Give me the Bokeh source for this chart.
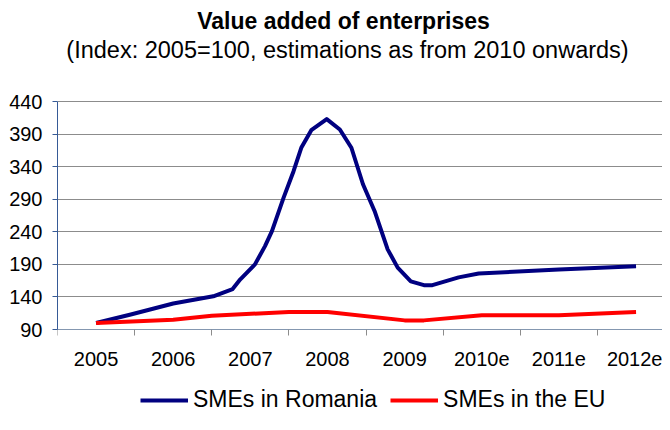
from bokeh.plotting import figure
from bokeh.models import Label, Legend, LegendItem, FixedTicker, Range1d
from bokeh.embed import file_html
from bokeh.resources import INLINE

# ---- data ----
categories = ["2005", "2006", "2007", "2008", "2009", "2010e", "2011e", "2012e"]
y_ticks = [90, 140, 190, 240, 290, 340, 390, 440]

# position along the category axis (0 = 2005 ... 7 = 2012e) and index value
ro_x = [0.0, 0.45, 1.0, 1.52, 1.77, 1.87, 2.06, 2.19, 2.28, 2.43, 2.56, 2.66, 2.79,
        2.99, 3.16, 3.31, 3.46, 3.61, 3.78, 3.91, 4.08, 4.25, 4.36, 4.70, 4.96, 6.0, 7.0]
ro_y = [100, 113, 130, 141, 152, 167, 190, 218, 241, 292, 333, 369, 396,
        413, 397, 369, 313, 272, 213, 185, 164, 158, 158, 170, 176, 182, 187]

eu_x = [0.0, 1.0, 1.5, 2.5, 3.0, 4.0, 4.25, 5.0, 6.0, 7.0]
eu_y = [100, 105, 111, 117, 117, 104, 104, 112, 112, 117]

title_text = "Value added of enterprises"
subtitle_text = "(Index: 2005=100, estimations as from 2010 onwards)"
series_names = ["SMEs in Romania", "SMEs in the EU"]

FONT = "Liberation Sans"

# ---- layout geometry (pixels) ----
W, H = 662, 414
LEFT = 57                 # y-axis position
AX_TOP, AX_BOT = 101, 329  # pixel rows of 440 and 90
CAT_W = 77.14             # width of one category
px_per_unit = (AX_BOT - AX_TOP) / (y_ticks[-1] - y_ticks[0])
x0 = -0.5
x1 = x0 + (W - LEFT) / CAT_W
y_top = y_ticks[-1] + AX_TOP / px_per_unit
y_bot = y_ticks[0] - (H - AX_BOT) / px_per_unit


def px_to_x(px):
    return x0 + (px - LEFT) / CAT_W


def py_to_y(py):
    return y_ticks[-1] + (AX_TOP - py) / px_per_unit


p = figure(width=W, height=H, output_backend="svg", toolbar_location=None,
           x_range=Range1d(x0, x1), y_range=Range1d(y_bot, y_top),
           min_border_left=LEFT, min_border_right=0, min_border_top=0, min_border_bottom=0)
p.outline_line_color = None
p.background_fill_color = "white"
p.border_fill_color = "white"

# grid
p.xgrid.grid_line_color = None
p.ygrid.ticker = FixedTicker(ticks=y_ticks)
p.ygrid.grid_line_color = "#8C8C8C"
p.ygrid.grid_line_width = 1

# y axis
p.yaxis.ticker = FixedTicker(ticks=y_ticks, minor_ticks=[])
p.yaxis.bounds = (y_ticks[0], y_ticks[-1])
p.yaxis.axis_line_color = "#365A96"
p.yaxis.major_tick_line_color = "#365A96"
p.yaxis.major_tick_out = 5
p.yaxis.major_tick_in = 0
p.yaxis.minor_tick_line_color = None
p.yaxis.major_label_standoff = 10
p.yaxis.major_label_text_font = FONT
p.yaxis.major_label_text_font_size = "20px"
p.yaxis.major_label_text_color = "black"

# x axis: labels at category centres, tick marks between categories
p.xaxis.fixed_location = y_ticks[0]
p.xaxis.ticker = FixedTicker(ticks=list(range(len(categories))),
                             minor_ticks=[i - 0.5 for i in range(len(categories) + 1)])
p.xaxis.major_label_overrides = {i: c for i, c in enumerate(categories)}
p.xaxis.axis_line_color = "#8497B0"
p.xaxis.major_tick_line_color = None
p.xaxis.major_tick_out = 0
p.xaxis.major_tick_in = 0
p.xaxis.minor_tick_line_color = "#8C8C8C"
p.xaxis.minor_tick_out = 6
p.xaxis.minor_tick_in = 0
p.xaxis.major_label_standoff = 16
p.xaxis.major_label_text_font = FONT
p.xaxis.major_label_text_font_size = "20px"
p.xaxis.major_label_text_color = "black"

r1 = p.line(ro_x, ro_y, line_color="#000080", line_width=4, line_join="round")
r2 = p.line(eu_x, eu_y, line_color="#FF0000", line_width=4, line_join="round")

# titles
p.add_layout(Label(x=px_to_x(343), y=py_to_y(20), text=title_text,
                   text_align="center", text_baseline="middle", text_font=FONT,
                   text_font_size="23px", text_font_style="bold", text_color="black"))
p.add_layout(Label(x=px_to_x(347), y=py_to_y(49), text=subtitle_text,
                   text_align="center", text_baseline="middle", text_font=FONT,
                   text_font_size="23.5px", text_color="black"))

legend = Legend(items=[LegendItem(label=series_names[0], renderers=[r1]),
                       LegendItem(label=series_names[1], renderers=[r2])],
                orientation="horizontal", location=(140 - LEFT, 1),
                glyph_width=48, glyph_height=20, label_standoff=5, spacing=13,
                padding=0, margin=0, border_line_color=None, background_fill_alpha=0,
                label_text_font=FONT, label_text_font_size="23px", label_text_color="black")
p.add_layout(legend)

open("out.html", "w").write(file_html(p, INLINE))
